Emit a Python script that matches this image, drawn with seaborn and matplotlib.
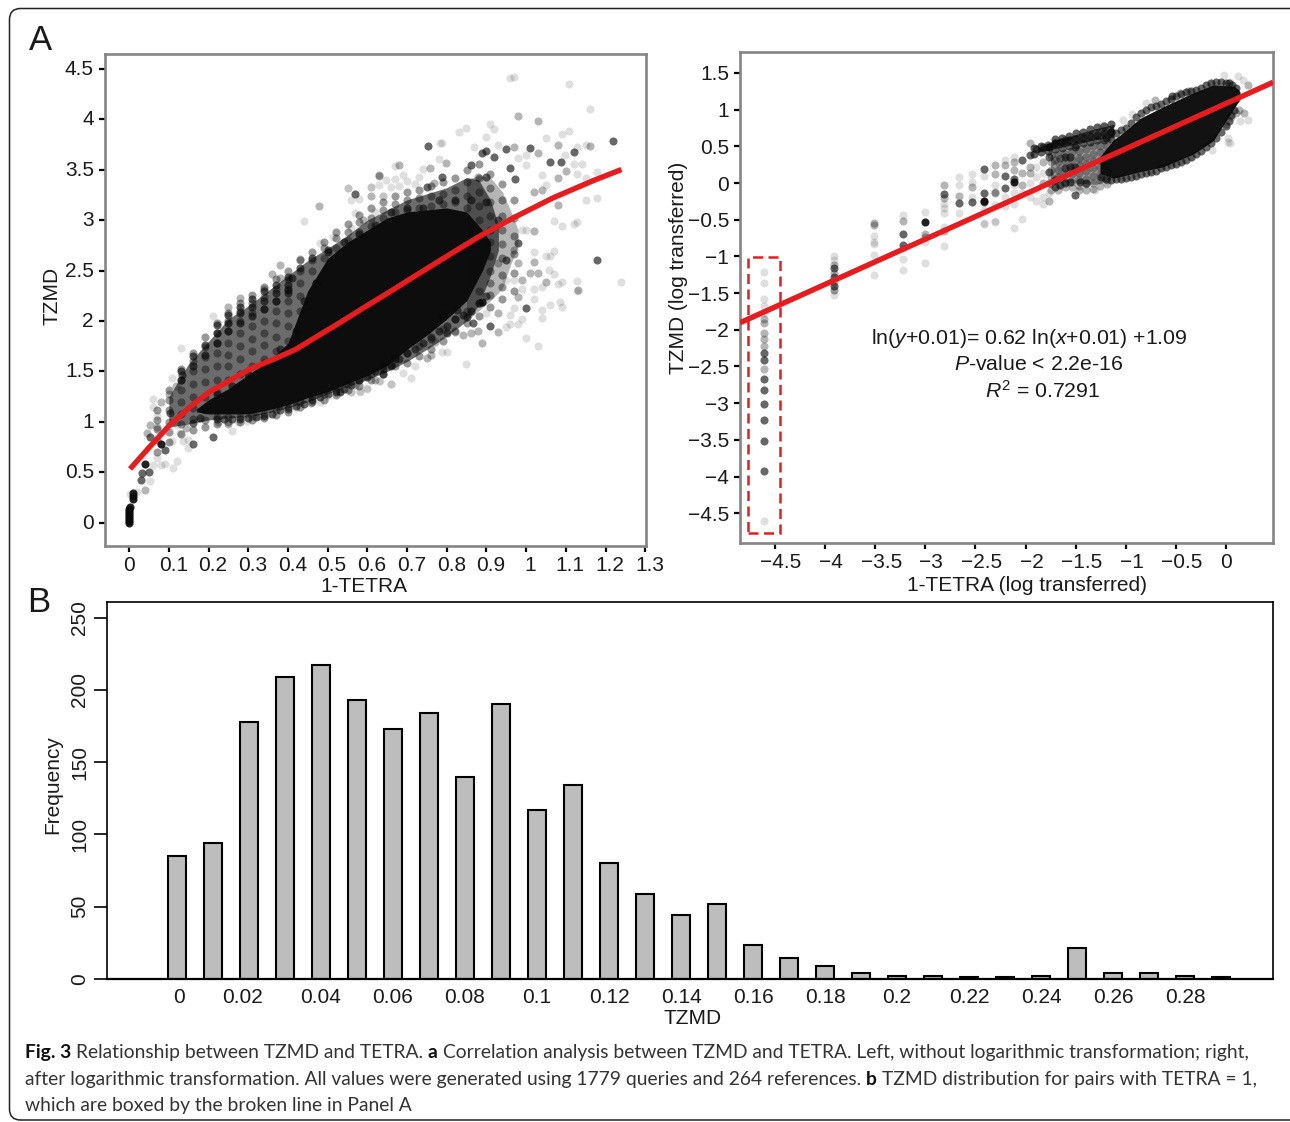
import numpy as np
import pandas as pd
import matplotlib
matplotlib.use("Agg")
import matplotlib.pyplot as plt
from matplotlib.patches import FancyBboxPatch, Rectangle
from matplotlib.transforms import ScaledTranslation, IdentityTransform
import seaborn as sns

# ---------- bar panel ----------
bar_freq = [85, 94, 178, 209, 217, 193, 173, 184, 140, 190, 117, 134, 80, 59, 44, 52,
            23, 14, 9, 4, 2, 2, 1, 1, 2, 21, 4, 4, 2, 1]
bar_tick_labels = ["0", "0.02", "0.04", "0.06", "0.08", "0.1", "0.12", "0.14", "0.16",
                   "0.18", "0.2", "0.22", "0.24", "0.26", "0.28"]

# ---------- left scatter: fit line ----------
fit_left_x = [0.002, 0.052, 0.102, 0.153, 0.203, 0.262, 0.304, 0.363, 0.42, 0.472, 0.531, 0.59,
              0.665, 0.699, 0.816, 0.883, 0.967, 1.068, 1.169, 1.24]
fit_left_y = [0.535, 0.756, 0.97, 1.15, 1.30, 1.43, 1.525, 1.62, 1.72, 1.845, 1.985, 2.13,
              2.31, 2.395, 2.68, 2.84, 3.02, 3.22, 3.39, 3.50]

# ---------- left scatter: dense regions read as envelopes ----------
core_left_x = [.17, .20, .25, .30, .35, .40, .45, .50, .55, .60, .65, .70, .75, .80, .85, .89, .91]
core_left_lo = [1.10, 1.08, 1.08, 1.08, 1.12, 1.17, 1.24, 1.30, 1.38, 1.46, 1.56, 1.72, 1.86, 2.02, 2.2, 2.5, 2.7]
core_left_hi = [1.13, 1.22, 1.33, 1.47, 1.6, 1.78, 2.3, 2.62, 2.78, 2.9, 3.02, 3.08, 3.1, 3.12, 3.08, 2.9, 2.78]
cloud_left_x = [.10, .15, .20, .25, .30, .35, .40, .45, .50, .55, .60, .65, .70, .75, .80, .85, .88, .91, .93]
cloud_left_lo = [.95, .98, 1.02, 1.04, 1.05, 1.09, 1.14, 1.2, 1.28, 1.35, 1.42, 1.5, 1.6, 1.72, 1.85, 2.0, 2.15, 2.45, 2.7]
cloud_left_hi = [1.25, 1.58, 1.8, 2.02, 2.15, 2.3, 2.45, 2.6, 2.72, 2.85, 3.0, 3.1, 3.2, 3.26, 3.32, 3.42, 3.4, 3.2, 2.95]
fringe_left_x = [.85, .88, .91, .94, .96, .98]
fringe_left_lo = [2.0, 2.1, 2.2, 2.32, 2.55, 2.75]
fringe_left_hi = [3.4, 3.44, 3.42, 3.28, 3.1, 2.9]

# ---------- left scatter: grey cloud read column by column ----------
left_fill_cols = [.07, .10, .13, .16, .19, .22, .25, .28, .31, .34, .37, .40, .43, .46, .49, .52, .55, .58, .61, .64,
                  .67, .70, .73, .76, .79, .82, .85, .88, .91, .94, .97]
left_fill_vals = [
    [.7, .82, .93, 1.02, 1.12], [.8, .9, 1.0, 1.12, 1.22, 1.32], [.88, .98, 1.08, 1.2, 1.32, 1.42, 1.52],
    [.92, 1.03, 1.14, 1.25, 1.38, 1.5, 1.6, 1.68], [.95, 1.02, 1.12, 1.25, 1.4, 1.52, 1.64, 1.74, 1.84],
    [.98, 1.05, 1.3, 1.42, 1.55, 1.68, 1.78, 1.88, 1.98], [1.0, 1.05, 1.42, 1.55, 1.66, 1.78, 1.9, 2.0, 2.08],
    [1.0, 1.05, 1.48, 1.62, 1.75, 1.88, 2.0, 2.1, 2.18], [1.02, 1.06, 1.55, 1.7, 1.82, 1.95, 2.08, 2.18, 2.26],
    [1.04, 1.08, 1.62, 1.76, 1.88, 2.0, 2.12, 2.24, 2.34], [1.07, 1.12, 1.7, 1.84, 1.98, 2.1, 2.2, 2.32, 2.42],
    [1.1, 1.15, 1.8, 1.95, 2.08, 2.2, 2.32, 2.42, 2.5], [1.15, 1.2, 2.1, 2.25, 2.38, 2.5, 2.6],
    [1.2, 1.25, 2.5, 2.6, 2.68], [1.22, 1.28, 2.62, 2.72, 2.78], [1.27, 1.32, 2.72, 2.82, 2.88],
    [1.32, 1.38, 2.8, 2.88, 2.96], [1.36, 1.42, 2.88, 2.98, 3.05], [1.42, 1.48, 2.94, 3.02, 3.12],
    [1.48, 1.55, 3.02, 3.1, 3.18], [1.55, 1.62, 3.08, 3.16, 3.24], [1.58, 1.68, 3.1, 3.2, 3.28],
    [1.65, 1.75, 3.12, 3.22, 3.3], [1.72, 1.82, 3.14, 3.24, 3.34], [1.8, 1.92, 3.16, 3.26, 3.38],
    [1.9, 2.02, 3.18, 3.3, 3.42], [1.98, 2.1, 3.12, 3.24, 3.38, 3.5],
    [2.05, 2.18, 2.3, 3.0, 3.14, 3.28, 3.42, 3.55],
    [2.14, 2.26, 2.38, 2.5, 2.64, 2.78, 2.9, 3.04, 3.18, 3.32, 3.46],
    [2.22, 2.34, 2.46, 2.62, 2.76, 2.9, 3.04, 3.2, 3.36], [2.3, 2.48, 2.66, 2.84, 3.02, 3.2],
]
left_ridge_cols = [.13, .16, .19, .22, .25, .28, .31, .34, .37, .40]
left_ridge_vals = [[1.42, 1.5], [1.55, 1.65], [1.66, 1.76], [1.78, 1.88, 1.96], [1.9, 1.98, 2.06], [1.98, 2.08, 2.14],
                   [2.05, 2.14, 2.22], [2.12, 2.2, 2.3], [2.2, 2.28, 2.36], [2.28, 2.36, 2.44]]

# ---------- left scatter: individual points by darkness ----------
left_light_x = [.959, .969, 1.108, 1.160, .909, .919, .830, .849, .899, 1.090, 1.109, 1.050, 1.150, .783, .789, .869,
                .930, 1.129, 1.0, .980, 1.099, 1.140, 1.120, 1.129, 1.0, .780, .669, .740, .690, .648, .669, .700,
                .550, .610, .630, .639, .560, .580, .660, .679, .720, .731, 1.039, 1.150, 1.179, 1.050, 1.150, 1.179,
                1.070, 1.090, 1.120, 1.129, 1.0, .989, 1.020, 1.070, 1.050, 1.060, 1.058, 1.070, 1.129, 1.080, 1.090,
                1.039, 1.239, .969, .949, 1.019, .989, 1.129, 1.085, 1.09, 1.06, 1.04, 1.04, 1.02, .97, .96, .989,
                .98, .96, .949, 1.0, 1.03, .849, .80, .789, .72, .709, .69, .659, .63, .60, .581, .56, .90,
                .020, .002, .111, .120, .091, .080, .060, .070, .052, .109, .128, .121, .149, .149, .136, .07, .06,
                .06, .109, .130, .21, .26, .275, .296, .35, .42, .48, .501, .56, .581, .60, .66, .631,
                .44, .55, .61, .64, .57, .62, .56, .514, .48]
left_light_y = [4.41, 4.42, 4.35, 4.10, 3.95, 3.90, 3.87, 3.91, 3.82, 3.85, 3.88, 3.81, 3.74, 3.76, 3.76, 3.72,
                3.74, 3.72, 3.64, 3.61, 3.64, 3.55, 3.55, 3.46, 3.54, 3.60, 3.53, 3.51, 3.45, 3.40, 3.41, 3.39,
                3.32, 3.33, 3.35, 3.24, 3.20, 3.21, 3.33, 3.34, 3.36, 3.43, 3.45, 3.42, 3.48, 3.35, 3.20, 3.22,
                2.99, 2.94, 2.96, 2.98, 2.90, 2.90, 2.68, 2.69, 2.64, 2.64, 2.51, 2.47, 2.40, 2.37, 2.39,
                2.34, 2.39, 2.41, 2.41, 2.32, 2.32, 2.30, 2.19, 2.14, 2.16, 2.11, 2.03, 2.22, 2.13, 2.06, 2.02,
                1.97, 1.97, 1.94, 1.83, 1.75, 1.57, 1.69, 1.69, 1.55, 1.44, 1.49, 1.38, 1.41, 1.33, 1.31, 1.30, 2.08,
                .31, .29, .54, .61, .58, .57, .57, .64, .42, .81, .89, .97, .82, .74, .81, 1.06, 1.15,
                1.23, 1.44, 1.73, 2.05, .91, 1.0, 1.01, 1.08, 1.14, 1.20, 1.26, 1.30, 1.30, 1.34, 1.38, 1.41,
                2.99, 3.32, 3.33, 3.24, 3.07, 3.08, 2.92, 2.83, 2.77]
left_mid_x = [.980, 1.030, 1.080, 1.160, .970, 1.030, 1.100, .799, .679, .630, .769, .759, .610, 1.080, 1.020, 1.039,
              1.080, 1.019, .969, 1.019, 1.009, 1.029, .979, .929, 1.050, .989, 1.130, .879, .98, .93, .93, .89,
              .879, .86, .84, .82, .77, .76, .749, .659, .619, .569, .66, .040, .069, .052, .045, .143, .08, .099,
              .119, .25, .224, .327, .459, .53, .63, .479, .59, .43, .38, .36, .38, .34, .279, .25]
left_mid_y = [4.03, 3.98, 3.74, 3.73, 3.72, 3.66, 3.49, 3.56, 3.54, 3.45, 3.37, 3.52, 3.24, 3.42, 3.28, 3.30,
              3.15, 2.89, 2.70, 2.58, 2.48, 2.48, 2.57, 2.57, 2.39, 2.41, 2.31, 3.43, 2.24, 2.08, 1.89, 1.78,
              1.90, 1.88, 1.86, 1.89, 1.79, 1.66, 1.63, 1.55, 1.42, 1.37, 1.55, .33, .95, .97, .89, .94, 1.20, 1.28,
              1.36, .98, 1.0, 1.06, 1.19, 1.31, 3.44, 3.14, 3.0, 2.61, 2.55, 2.47, 2.43, 2.32, 2.23, 2.14]
left_dark_x = [1.219, .752, .950, 1.010, 1.120, .899, .890, .919, 1.059, 1.089, .860, .959, .789, .750, .569, .900,
               .971, 1.179, .980, .949, 1.0, .909, .80, .825, .85, .866, .669, .64, .532, .031, .050, .029, .090,
               .052, .160, .178, .161, .102, .132, .21, .50, .43, .409, .40,
               .46, .50, .54, .58, .62, .66, .70, .74, .78, .82, .86, .90, .93,
               .22, .26, .30, .34, .38, .42, .46, .5, .54, .58, .62, .66, .7, .74, .78, .82, .86, .9,
               .22, .26, .3, .34, .38, .42, .44,
               .24, .28, .32, .36, .4, .44, .48, .52, .56, .6, .64, .68, .72, .76, .8, .84, .88]
left_dark_y = [3.78, 3.73, 3.70, 3.71, 3.67, 3.68, 3.66, 3.62, 3.57, 3.57, 3.54, 3.52, 3.43, 3.33, 3.26, 3.43,
               3.41, 2.60, 2.77, 2.60, 2.13, 1.95, 1.88, 2.11, 2.04, 1.98, 1.63, 1.48, 1.30, .49, .50, .43, .72,
               .85, .78, 1.04, .99, 1.09, 1.47, .85, 2.70, 2.52, 2.43, 2.31,
               2.62, 2.68, 2.78, 2.86, 2.95, 3.08, 3.12, 3.12, 3.2, 3.2, 3.2, 3.18, 3.0,
               1.03, 1.03, 1.04, 1.06, 1.12, 1.16, 1.22, 1.28, 1.33, 1.42, 1.5, 1.56, 1.68, 1.78, 1.9, 2.02, 2.1, 2.25,
               1.28, 1.36, 1.48, 1.58, 1.72, 1.9, 2.2,
               1.03, 1.03, 1.05, 1.08, 1.13, 1.18, 1.25, 1.3, 1.37, 1.45, 1.52, 1.62, 1.72, 1.84, 1.95, 2.06, 2.18]
left_black_x = [.889, .789, .040, .080, .47, 0, 0, 0, 0, 0, 0, 0, 0, .002, .01, .01, .01]
left_black_y = [2.19, 2.06, .58, .78, 2.38, 0, .02, .04, .06, .08, .10, .12, .14, .16, .24, .27, .30]

# ---------- right scatter ----------
fit_right_x = [-4.849, 0.469]
fit_right_y = [-1.904, 1.372]
core_right_x = [-1.257, -1.124, -.991, -.858, -.625, -.326, -.127, .073, .12, .14]
core_right_lo = [.132, .064, .109, .154, .222, .395, .577, 1.0, 1.1, 1.2]
core_right_hi = [.359, .586, .722, .881, 1.04, 1.23, 1.335, 1.32, 1.28, 1.24]
cloud_right_x = [-1.75, -1.5, -1.3, -1.15]
cloud_right_lo = [.02, .0, -.02, .05]
cloud_right_hi = [.42, .5, .56, .62]
ridge_right_x = [-1.88, -1.7, -1.5, -1.3, -1.12]
ridge_right_lo = [.42, .47, .53, .59, .62]
ridge_right_hi = [.48, .58, .66, .74, .8]

right_ridge_cols = [-1.92, -1.85, -1.78, -1.71, -1.64, -1.57, -1.5, -1.43, -1.36, -1.29, -1.22, -1.15]
right_ridge_vals = [[.40, .48], [.42, .5], [.44, .52], [.46, .54, .6], [.48, .56, .62], [.5, .58, .64],
                    [.52, .6, .68], [.54, .62, .7], [.56, .64, .74], [.58, .66, .76], [.58, .68, .78], [.6, .7, .8]]
right_fill_cols = [-1.75, -1.68, -1.61, -1.54, -1.47, -1.40, -1.33, -1.26, -1.19]
right_fill_vals = [[.38, .28, .18, .08, -.02, -.1], [.38, .28, .18, .08, -.02, -.1], [.4, .3, .12, .02, -.06],
                   [.42, .32, .22, .12, .02, -.06], [.44, .34, .24, .14, .04, -.04, -.1],
                   [.46, .36, .26, .16, .06, -.02, -.1], [.5, .4, .3, .2, .1, 0, -.08],
                   [.5, .42, .32, .22, .12, .04, -.04], [.5, .42, .04, -.02]]

right_light_x = [-4.605, -4.605, -4.605, -4.605, -4.605, -4.605, -3.91, -3.91, -3.91, -3.91,
                 -3.51, -3.51, -3.51, -3.51, -3.51, -3.22, -3.22, -3.22, -3.22, -3.0, -3.0, -3.0,
                 -2.81, -2.81, -2.81, -2.81, -2.81, -2.66, -2.66, -2.66, -2.53, -2.53, -2.53,
                 -2.41, -2.41, -2.41, -2.41, -2.30, -2.30, -2.30, -2.30, -2.2, -2.2, -2.2,
                 -2.12, -2.12, -2.12, -2.12, -2.12, -2.04, -2.04, -1.96, -1.96,
                 -1.895, -1.895, -1.895, -1.895, -1.83, -1.83, -1.83, -1.77, -1.66, -1.66, -1.46,
                 -.02, .116, .04, .166, -.16, -.8, -.94, -1.024, -1.24, -.143, .023, .04, .22, .14, .023,
                 -.343, -.426, -.525, -.658, -.758, -.908, -1.024, -1.306]
right_light_y = [-1.217, -1.358, -1.576, -1.671, -1.776, -4.61, -1.0, -1.05, -1.46, -1.53,
                 -.72, -.80, -.83, -.98, -1.25, -.44, -.89, -1.03, -1.185, -.39, -.80, -1.085,
                 -.28, -.345, -.41, -.595, -.86, -.027, -.41, .08, -.186, .12, .02,
                 .095, -.37, -.56, -.55, -.03, -.30, -.52, -.527, .31, -.19, -.32,
                 .36, -.03, -.14, -.29, -.61, -.14, -.49, 0, -.19,
                 .22, .086, -.095, -.25, .13, -.19, -.29, -.14, .20, .09, .31,
                 1.47, 1.46, 1.38, 1.40, 1.36, 1.09, .94, .86, .79, .45, .56, .54, .86, .84, .61,
                 .36, .31, .27, .22, .17, .13, .09, -.095]
right_mid_x = [-4.605, -4.605, -4.605, -4.605, -4.605, -4.605, -3.91, -3.91, -3.91, -3.91, -3.51, -3.51, -3.22,
               -3.0, -3.0, -2.81, -2.81, -2.81, -2.66, -2.53, -2.30, -2.30, -2.30, -2.30, -2.2, -2.12, -2.12,
               -2.04, -2.04, -1.96, -1.96, -1.96, -1.83, -1.83, -1.77, -1.77, -1.71, -1.66,
               .216, .179, -.376, -.459, -.71, 0, .05, .1, .13]
right_mid_y = [-1.85, -1.903, -2.048, -2.13, -2.216, -2.53, -1.12, -1.22, -1.344, -1.46, -.54, -.57, -.52,
               -.69, -.73, -.027, -.21, -.66, -.177, -.05, .25, .12, -.118, -.13, .245, .29, .177,
               .13, -.03, .54, .22, .13, .29, 0, 0, -.24, .31, .34,
               1.33, .95, 1.26, 1.23, 1.13, .8, .9, .95, 1.0]
right_dark_x = [-4.605, -4.605, -4.605, -4.605, -4.605, -4.605, -4.605, -4.605, -3.91, -3.91, -3.91, -3.22, -3.22,
                -2.81, -2.66, -2.53, -2.41, -2.41, -2.41, -2.2, -2.2, -2.12, -2.04, -1.96, -1.895, -1.83,
                -1.77, -1.77, -1.71, -1.71, -1.71, -1.66, -1.66, -1.61, -1.61, -1.61, -1.61, -1.56, -1.56, -1.56,
                -1.51, -1.51, -1.51, -1.46, -1.4, -.542,
                -1.2, -1.1, -1.0, -.9, -.8, -.7, -.6, -.5, -.4, -.3, -.2, -.1, 0, .06, .1,
                -1.25, -1.15, -1.05, -.95, -.85, -.75, -.65, -.55, -.45, -.35, -.25, -.15, -.05, .03, .08, .1,
                -1.15, -1.05, -.95, -.85, -.75, -.65, -.55, -.45, -.35, -.25, -.15, -.05, .03,
                -1.2, -1.1, -1.0, -.9, -.8, -.7, -.6, -.5, -.4, -.3, -.2, -.1, 0, .05]
right_dark_y = [-2.31, -2.416, -2.825, -3.006, -3.229, -3.515, -2.666, -3.924, -1.16, -1.285, -1.40, -.69, -.845,
                -.15, -.27, -.254, -.14, -.254, .19, .095, -.07, .06, .31, .38, .47, .495,
                .36, .155, .54, .04, -.05, .56, -.03, .59, .2, .36, 0, .36, .22, .02,
                -.16, .49, .22, .02, 0, 1.18,
                .62, .68, .75, .9, 1.0, 1.05, 1.12, 1.18, 1.24, 1.27, 1.33, 1.38, 1.36, 1.34, 1.3,
                .08, .04, .06, .08, .12, .15, .2, .24, .28, .36, .44, .55, .7, .85, 1.0, 1.15,
                .7, .72, .82, .95, 1.03, 1.08, 1.15, 1.21, 1.26, 1.3, 1.36, 1.38, 1.36,
                .06, .05, .07, .1, .13, .17, .22, .26, .32, .4, .49, .62, .78, .92]
right_black_x = [-3.0, -1.77, -2.12, -2.41]
right_black_y = [-.527, .495, .02, -.245]

box_x = [-4.772, -4.45]
box_y = [-4.77, -1.01]

left_xticks = [0, .1, .2, .3, .4, .5, .6, .7, .8, .9, 1, 1.1, 1.2, 1.3]
left_yticks = [0, .5, 1, 1.5, 2, 2.5, 3, 3.5, 4, 4.5]
right_xticks = [-4.5, -4, -3.5, -3, -2.5, -2, -1.5, -1, -.5, 0]
right_yticks = [1.5, 1, .5, 0, -.5, -1, -1.5, -2, -2.5, -3, -3.5, -4, -4.5]

# ---------- style ----------
W, H = 1290, 1122
sns.set_theme(style="white")
plt.rcParams["font.family"] = ["Liberation Sans", "DejaVu Sans"]
plt.rcParams["mathtext.fontset"] = "custom"
plt.rcParams["mathtext.rm"] = "Liberation Sans"
plt.rcParams["mathtext.it"] = "Liberation Sans:italic"
plt.rcParams["axes.unicode_minus"] = True
FS = 15
TXT = "#1a1a1a"
RED = "#e61c1e"
GREY = "#858585"

fig = plt.figure(figsize=(W / 100, H / 100), dpi=100, facecolor="white")


def axes_px(l, t, r, b):
    return fig.add_axes([l / W, 1 - b / H, (r - l) / W, (b - t) / H])


def label_at(ax, axis, px, py):
    inv = ax.transAxes.inverted()
    ax_x, ax_y = inv.transform((px, H - py))
    (ax.xaxis if axis == "x" else ax.yaxis).set_label_coords(ax_x, ax_y)


def fmt(v):
    return ("%g" % v).replace("-", "\u2212")


def flat(cols, vals):
    xs = [c for c, v in zip(cols, vals) for _ in v]
    ys = [y for v in vals for y in v]
    return xs, ys


def px_shift(dx, dy=0):
    return ScaledTranslation(dx / 100, dy / 100, fig.dpi_scale_trans)


def scatter_panel(ax, groups, bands, fit_x, fit_y):
    for x, y, a in groups:
        sns.scatterplot(x=x, y=y, ax=ax, color="#0a0a0a", alpha=a, s=34, linewidth=0, zorder=2, legend=False)
    for x, lo, hi, a in bands:
        ax.fill_between(x, lo, hi, color="#0a0a0a", alpha=a, linewidth=0, zorder=1)
    sns.lineplot(x=fit_x, y=fit_y, ax=ax, color=RED, linewidth=3.9, sort=False, errorbar=None, zorder=4,
                 solid_capstyle="butt")
    for s in ax.spines.values():
        s.set_color(GREY)
        s.set_linewidth(1.9)
    ax.tick_params(axis="both", direction="out", length=4, width=1.6, color="black",
                   labelsize=FS, labelcolor=TXT, pad=4, left=True, bottom=True)


# ---------- panel A left ----------
axL = axes_px(105, 54, 646, 546)
lfx, lfy = flat(left_fill_cols, left_fill_vals)
lrx, lry = flat(left_ridge_cols, left_ridge_vals)
scatter_panel(
    axL,
    [(left_light_x, left_light_y, .13), (left_mid_x, left_mid_y, .3), (lfx, lfy, .42), (lrx, lry, .65),
     (left_dark_x, left_dark_y, .62), (left_black_x, left_black_y, .9)],
    [(fringe_left_x, fringe_left_lo, fringe_left_hi, .3), (cloud_left_x, cloud_left_lo, cloud_left_hi, .6),
     (core_left_x, core_left_lo, core_left_hi, .97)],
    fit_left_x, fit_left_y)
axL.set_xlim(-0.061, 1.302)
axL.set_ylim(-0.228, 4.644)
axL.set_xticks(left_xticks, [fmt(v) for v in left_xticks])
axL.set_yticks(left_yticks, [fmt(v) for v in left_yticks])
axL.set_xlabel("1-TETRA", fontsize=FS, color=TXT)
axL.set_ylabel("TZMD", fontsize=FS, color=TXT)
label_at(axL, "x", 364, 577)
label_at(axL, "y", 62, 296)
axL.tick_params(axis="x", pad=3)
axL.tick_params(axis="y", pad=4)
for lab, v in zip(axL.get_xticklabels(), left_xticks):
    if v != 0:
        lab.set_transform(lab.get_transform() + px_shift(4.5))
for lab in axL.get_yticklabels():
    lab.set_transform(lab.get_transform() + px_shift(0, 1.5))

# ---------- panel A right ----------
axR = axes_px(740, 52, 1273, 543)
rfx, rfy = flat(right_fill_cols, right_fill_vals)
rrx, rry = flat(right_ridge_cols, right_ridge_vals)
scatter_panel(
    axR,
    [(right_light_x, right_light_y, .13), (right_mid_x, right_mid_y, .3), (rfx, rfy, .3), (rrx, rry, .65),
     (right_dark_x, right_dark_y, .62), (right_black_x, right_black_y, .9)],
    [(cloud_right_x, cloud_right_lo, cloud_right_hi, .4), (ridge_right_x, ridge_right_lo, ridge_right_hi, .75),
     (core_right_x, core_right_lo, core_right_hi, .97)],
    fit_right_x, fit_right_y)
axR.set_xlim(-4.849, 0.469)
axR.set_ylim(-4.905, 1.785)
axR.set_xticks(right_xticks, [fmt(v) for v in right_xticks])
axR.set_yticks(right_yticks, [fmt(v) for v in right_yticks])
axR.set_xlabel("1-TETRA (log transferred)", fontsize=FS, color=TXT)
axR.set_ylabel("TZMD (log transferred)", fontsize=FS, color=TXT)
label_at(axR, "x", 1027, 576)
label_at(axR, "y", 688, 268)
axR.tick_params(axis="x", pad=3)
for lab, v in zip(axR.get_xticklabels(), right_xticks):
    if v != 0:
        lab.set_transform(lab.get_transform() + px_shift(6))
axR.add_patch(Rectangle((box_x[0], box_y[0]), box_x[1] - box_x[0], box_y[1] - box_y[0], fill=False,
                        edgecolor=RED, linewidth=1.8, linestyle=(0, (4, 2.2)), zorder=5))
eqn_kw = dict(fontsize=15.3, color=TXT, ha="center", va="center", transform=IdentityTransform())
fig.text(1029, H - 338, r"ln($\mathit{y}$+0.01)= 0.62 ln($\mathit{x}$+0.01$\mathit{)}$ +1.09", **eqn_kw)
fig.text(1039, H - 364, r"$\mathit{P}$-value < 2.2e-16", **eqn_kw)
fig.text(1043, H - 391, r"$\mathit{R}^{2}$ = 0.7291", **eqn_kw)

# ---------- panel B ----------
axB = axes_px(106.7, 602, 1273, 978.7)
bars = pd.DataFrame({"pos": np.arange(len(bar_freq)), "freq": bar_freq})
sns.barplot(data=bars, x="pos", y="freq", ax=axB, color="#bdbdbd", saturation=1, width=0.51,
            edgecolor="black", linewidth=1.5, legend=False)
axB.set_xlim(-1.95, 30.44)
axB.set_ylim(0, 260.9)
axB.set_xticks(list(range(0, 30, 2)), bar_tick_labels)
axB.set_yticks([0, 50, 100, 150, 200, 250], ["0", "50", "100", "150", "200", "250"])
axB.tick_params(axis="x", length=0, labelsize=FS, labelcolor=TXT, pad=7)
axB.tick_params(axis="y", left=True, length=9.5, width=1.2, color="black", labelsize=FS, labelcolor=TXT,
                pad=3, labelrotation=90)
for lab in axB.get_yticklabels():
    lab.set_va("center")
xlabs = axB.get_xticklabels()
xlabs[0].set_transform(xlabs[0].get_transform() + px_shift(2))
xlabs[1].set_transform(xlabs[1].get_transform() + px_shift(-6))
for s in axB.spines.values():
    s.set_color("black")
    s.set_linewidth(1.2)
    s.set_zorder(5)
axB.spines["bottom"].set_linewidth(1.6)
axB.set_xlabel("TZMD", fontsize=FS, color=TXT)
axB.set_ylabel("Frequency", fontsize=FS, color=TXT)
label_at(axB, "x", 693, 1009)
label_at(axB, "y", 62, 785)

# ---------- panel letters ----------
fig.text(29, H - 50, "A", fontsize=25, color=TXT, ha="left", va="baseline", transform=IdentityTransform())
fig.text(27, H - 612, "B", fontsize=25, color=TXT, ha="left", va="baseline", transform=IdentityTransform())

# ---------- caption ----------
CAP = "Lato"
CAP_FS = 13.87
CAP_C = "#333333"
lines = [
    (1058, [("Fig. 3", True), (" Relationship between TZMD and TETRA. ", False), ("a", True),
            (" Correlation analysis between TZMD and TETRA. Left, without logarithmic transformation; right,", False)]),
    (1085, [("after logarithmic transformation. All values were generated using 1779 queries and 264 references. ", False),
            ("b", True), (" TZMD distribution for pairs with TETRA = 1,", False)]),
    (1111, [("which are boxed by the broken line in Panel A", False)]),
]
rend = fig.canvas.get_renderer()
sp = fig.text(0, 0, "n n", fontsize=CAP_FS, family=CAP)
sp2 = fig.text(0, 0, "nn", fontsize=CAP_FS, family=CAP)
sw = sp.get_window_extent(rend).width - sp2.get_window_extent(rend).width
sp.remove()
sp2.remove()
for py, parts in lines:
    cx = 25.0
    for s, bold in parts:
        lead = len(s) - len(s.lstrip())
        trail = len(s) - len(s.rstrip())
        core = s.strip()
        cx += lead * sw
        t = fig.text(cx, H - py, core, fontsize=CAP_FS, family=CAP, color="#111111" if bold else CAP_C,
                     fontweight="bold" if bold else "normal", ha="left", va="baseline",
                     transform=IdentityTransform())
        cx += t.get_window_extent(rend).width + trail * sw

# ---------- card outline ----------
fig.add_artist(FancyBboxPatch((9.5, 2), W + 60, H - 10.5, boxstyle="round,pad=0,rounding_size=11",
                              fill=False, edgecolor="#222222", linewidth=1.1, transform=IdentityTransform(),
                              clip_on=False))

fig.savefig("out.png", dpi=100, facecolor="white")
